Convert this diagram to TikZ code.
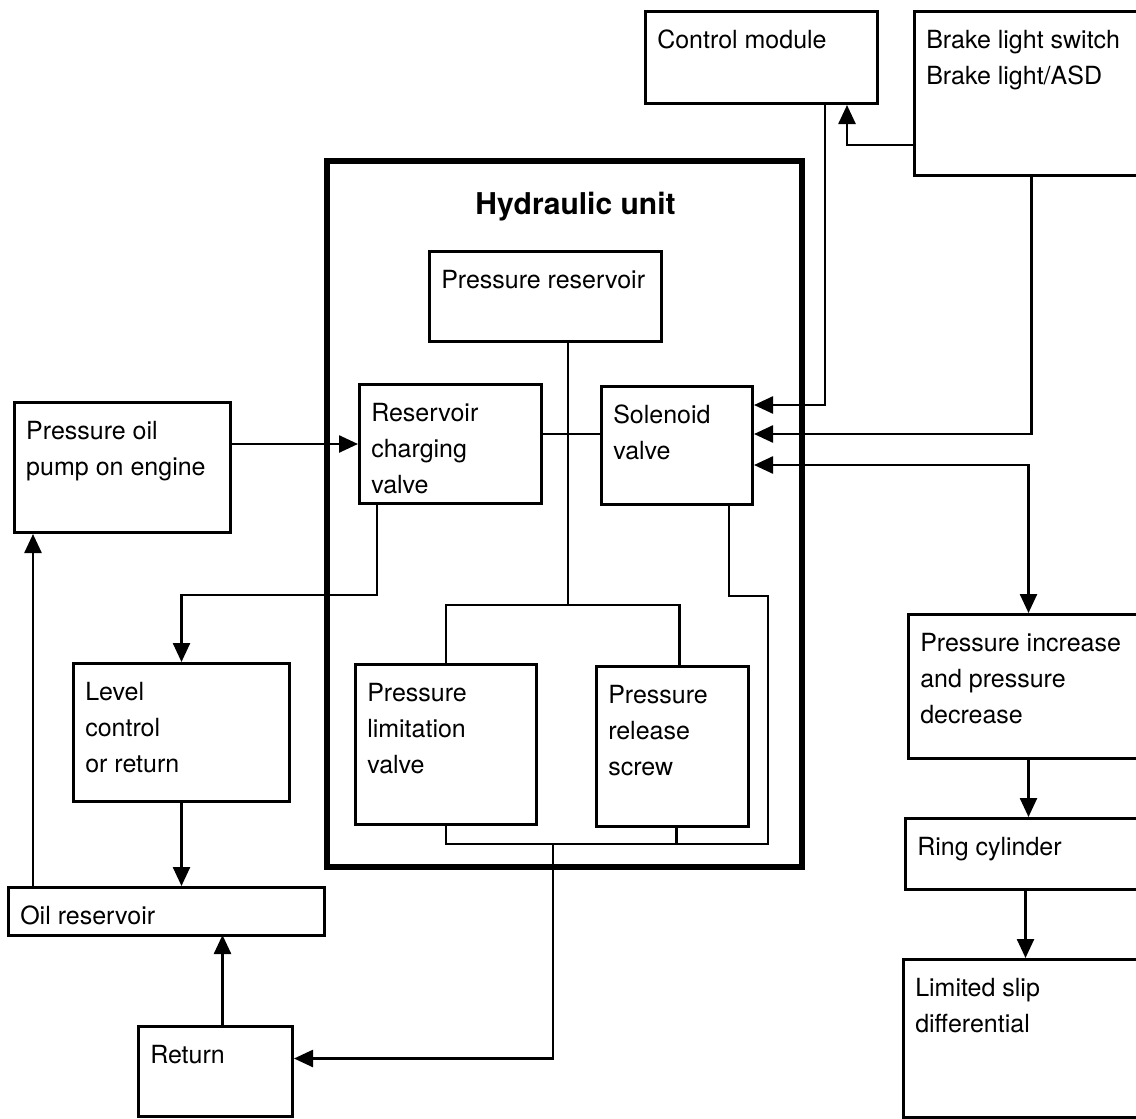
\documentclass[tikz,border=0pt]{standalone}
\usepackage{fontspec}
\setmainfont{TeX Gyre Heros}
\usetikzlibrary{arrows.meta}
\usetikzlibrary{positioning}

\begin{document}
\begin{tikzpicture}[x=1pt,y=-1pt,>={Triangle[length=19pt,width=17pt]},
		line width=2.5pt,font=\fontsize{25}{36}\selectfont,
		box node/.style={draw,rectangle,anchor=north west,inner sep=0pt,line width=3pt},
		box text/.style={anchor=north west,align=left,inner xsep=12pt,inner ysep=19pt}]
		
		\useasboundingbox[fill=white] (0,0) rectangle (1136,1119);
		
		% hydraulic unit frame
		\node[box node,line width=6pt,minimum width=475pt,minimum height=706pt,
			label={[anchor=north,xshift=11pt,yshift=-30pt,font=\fontsize{30}{36}\selectfont\bfseries]north:Hydraulic unit}]
			(hyd) at (324,158) {};
		
		\node[box node,minimum width=232pt,minimum height=92pt,label={[box text]north west:Control module}] (ctrl) at (644,10) {};
		\node[box node,minimum width=234pt,minimum height=164pt,label={[box text]north west:Brake light switch\\Brake light/ASD}] (brake) at (913,10) {};
		\node[box node,minimum width=232pt,minimum height=90pt,label={[box text]north west:Pressure reservoir}] (pres) at (428,250) {};
		\node[box node,minimum width=182pt,minimum height=119pt,label={[box text]north west:Reservoir\\charging\\valve}] (charge) at (358,383) {};
		\node[box node,minimum width=151pt,minimum height=118pt,label={[box text]north west:Solenoid\\valve}] (sol) at (600,385) {};
		\node[box node,minimum width=181pt,minimum height=160pt,label={[box text]north west:Pressure\\limitation\\valve}] (limit) at (354,663) {};
		\node[box node,minimum width=152pt,minimum height=160pt,label={[box text]north west:Pressure\\release\\screw}] (release) at (595,665) {};
		\node[box node,minimum width=216pt,minimum height=130pt,label={[box text]north west:Pressure oil\\pump on engine}] (pump) at (13,401) {};
		\node[box node,minimum width=216pt,minimum height=138pt,label={[box text]north west:Level\\control\\or return}] (level) at (72,662) {};
		\node[box node,minimum width=316pt,minimum height=48pt,label={[box text]north west:Oil reservoir}] (oilres) at (7,886) {};
		\node[box node,minimum width=154pt,minimum height=90pt,label={[box text]north west:Return}] (ret) at (137,1025) {};
		\node[box node,minimum width=240pt,minimum height=144pt,label={[box text]north west:Pressure increase\\and pressure\\decrease}] (incr) at (907,613) {};
		\node[box node,minimum width=240pt,minimum height=71pt,label={[box text]north west:Ring cylinder}] (ring) at (904,817) {};
		\node[box node,minimum width=240pt,minimum height=158pt,label={[box text]north west:Limited slip\\differential}] (lsd) at (902,958) {};
		
		% junctions inside the unit
		\coordinate (tee) at (568,605);
		\coordinate (loop) at (768,596);
		\coordinate (bus) at (553,844);
		\coordinate (cs) at ([yshift=10pt]charge.east);
		
		% inputs to the solenoid valve
		\draw[->] ([xshift=-54pt]ctrl.south east) |- ([yshift=-20pt]sol.north east);
		\draw[->] ([yshift=-135pt]brake.north west) -| ([xshift=-32pt]ctrl.south east);
		\draw[->] (brake.south) |- ([yshift=-49pt]sol.north east);
		\draw[<->] ([yshift=-80pt]sol.north east) -| (incr.north);
		\draw[->] (incr.south) -- (incr.south |- ring.north);
		\draw[->] (ring.south) -- (ring.south |- lsd.north);
		
		% oil circuit
		\draw[->] (charge.west -| pump.east) -- (charge.west);
		\draw (cs) -- (cs -| sol.west);
		\draw (pres.south -| tee) -- (tee);
		\draw (limit.north) |- (tee) -| ([xshift=7pt]release.north);
		\draw[->] ([xshift=19pt]charge.south west) -- ++(0,90) -| (level.north);
		\draw[->] (level.south) -- (level.south |- oilres.north);
		\draw[->] ([xshift=26pt]oilres.north west) -- ([xshift=20pt]pump.south west);
		\draw (limit.south) |- (768,844) -- (loop) -| ([xshift=52pt]sol.south);
		\draw ([xshift=4pt]release.south) |- (bus);
		\draw[->] (bus) |- ([yshift=13pt]ret.east);
		\draw[->] ([xshift=7pt]ret.north) -- ++(0,-90);
		
\end{tikzpicture}
\end{document}
